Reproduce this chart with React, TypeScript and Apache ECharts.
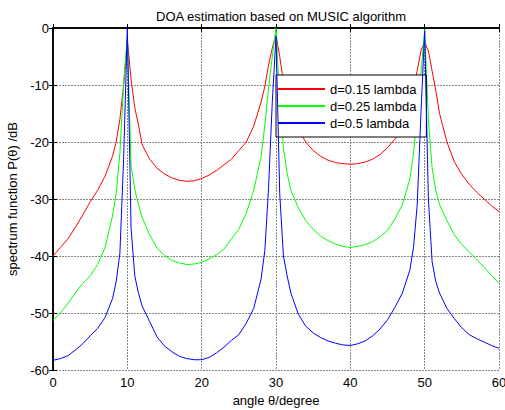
import React, { useEffect, useRef } from "react";
import * as echarts from "echarts";

const angles = [
  0, 1, 2, 3, 4, 5, 6, 7, 8, 8.5, 9, 9.5, 10, 10.5, 11, 11.5, 12,
  13, 14, 15, 16, 17, 18, 19, 20, 21, 22, 23, 24, 25, 26, 27, 28,
  28.5, 29, 29.5, 30, 30.5, 31, 31.5, 32,
  33, 34, 35, 36, 37, 38, 39, 40, 41, 42, 43, 44, 45, 46, 47, 48,
  48.5, 49, 49.5, 50, 50.5, 51, 51.5, 52,
  53, 54, 55, 56, 57, 58, 59, 60,
];

const red015 = [
  -40, -38.5, -37, -35, -32.8, -30.5, -28.5, -26, -22.5, -20, -16, -10, -2, -9, -14, -17, -20.5,
  -23, -24.6, -25.6, -26.3, -26.7, -26.9, -26.8, -26.4, -25.8, -25, -24, -23, -21.5, -20, -17.2, -13,
  -10.2, -6.5, -3.5, -1.2, -5, -9.5, -12, -14.5,
  -17.8, -20, -21.5, -22.5, -23.2, -23.6, -23.8, -23.9, -23.8, -23.5, -23, -22.2, -21, -19.5, -17.2, -13.5,
  -10.5, -7.5, -4, -2.5, -4, -7.5, -11, -15,
  -20, -23.5, -25.7, -27.4, -28.8, -30, -31.2, -32.2,
];

const green025 = [
  -51.3, -50, -48.3, -46.5, -44.8, -43.5, -41.5, -38.5, -33, -29, -22, -10, -1.5, -24, -28.3, -31, -33.3,
  -36.3, -38.6, -39.9, -40.8, -41.2, -41.5, -41.4, -41.1, -40.5, -39.8, -38.8, -37, -35.3, -32.5, -28.5, -22.5,
  -17, -10.5, -5, 0, -13, -21, -25.5, -28.5,
  -31.5, -33.8, -35.3, -36.5, -37.3, -37.9, -38.3, -38.5, -38.3, -38, -37.5, -36.6, -35.5, -33.5, -31, -26.5,
  -22, -15, -8, -0.3, -16, -24.5, -28.5, -31,
  -33.8, -36.3, -38, -39.3, -40.6, -42, -43.4, -44.8,
];

const blue05 = [
  -58.3, -58, -57.5, -56.5, -55.4, -54, -52.7, -50.8, -47.5, -44.5, -39.5, -23, 0, -35, -43.5, -46.5, -48.8,
  -51.5, -54.2, -55.8, -56.8, -57.6, -58, -58.2, -58.2, -57.8, -57, -56, -54.8, -53.8, -51.8, -49.2, -44,
  -39, -28, -13, -1.5, -29, -40, -43.5, -46.5,
  -50.2, -52.3, -53.5, -54.3, -54.9, -55.3, -55.6, -55.7, -55.4, -54.9, -54, -52.8, -51.2, -49, -46.5, -42.5,
  -38.5, -31, -15, -0.5, -30, -41, -44.5, -46.5,
  -49.2, -51, -52.6, -53.8, -54.5, -55.1, -55.7, -56.2,
];

const seriesNames = ["d=0.15 lambda", "d=0.25 lambda", "d=0.5 lambda"];
const seriesColors = ["#ff0000", "#00ff00", "#0000ff"];
const seriesValues = [red015, green025, blue05];

const FONT = "'Liberation Sans', Arial, sans-serif";

export default function App() {
  const ref = useRef<HTMLDivElement>(null);

  useEffect(() => {
    if (!ref.current) return;
    const chart = echarts.init(ref.current, undefined, { renderer: "svg" });
    const axisLine = { show: true, lineStyle: { color: "#000", width: 1.5 } };
    const tick = { show: true, inside: true, length: 4, lineStyle: { color: "#000" } };
    chart.setOption({
      animation: false,
      backgroundColor: "#fff",
      textStyle: { fontFamily: FONT },
      title: {
        text: "DOA estimation based on MUSIC algorithm",
        left: 276,
        textAlign: "center",
        top: 5,
        textStyle: { fontSize: 13, fontWeight: "normal", color: "#000", fontFamily: FONT },
      },
      legend: {
        orient: "vertical",
        left: 276,
        top: 75,
        backgroundColor: "#fff",
        borderColor: "#000",
        borderWidth: 1,
        borderRadius: 0,
        padding: [7, 10, 7, 2],
        itemWidth: 47,
        itemHeight: 2,
        itemGap: 3,
        icon: "rect",
        textStyle: { fontSize: 13, color: "#000", fontFamily: FONT, lineHeight: 14 },
        data: seriesNames.map((n, i) => ({ name: n, itemStyle: { color: seriesColors[i] } })),
      },
      grid: {
        left: 53,
        right: 6,
        top: 28,
        bottom: 40,
        containLabel: false,
        outerBoundsMode: "none",
      },
      xAxis: [
        {
          type: "value",
          min: 0,
          max: 60,
          interval: 10,
          name: "angle θ/degree",
          nameLocation: "middle",
          nameGap: 20,
          nameTextStyle: { fontSize: 13, color: "#000", fontFamily: FONT },
          axisLine,
          axisTick: tick,
          axisLabel: { color: "#000", fontSize: 13, margin: 6, fontFamily: FONT },
          splitLine: { show: true, lineStyle: { color: "#888", type: [2, 1], width: 1 } },
        },
        {
          type: "value",
          position: "top",
          min: 0,
          max: 60,
          interval: 10,
          axisLine,
          axisTick: tick,
          axisLabel: { show: false },
          splitLine: { show: false },
        },
      ],
      yAxis: [
        {
          type: "value",
          min: -60,
          max: 0,
          interval: 10,
          name: "spectrum function P(θ) /dB",
          nameLocation: "middle",
          nameGap: 26,
          nameTextStyle: { fontSize: 13, color: "#000", fontFamily: FONT },
          axisLine,
          axisTick: tick,
          axisLabel: { color: "#000", fontSize: 13, margin: 4, fontFamily: FONT },
          splitLine: { show: true, lineStyle: { color: "#888", type: [2, 1], width: 1 } },
        },
        {
          type: "value",
          position: "right",
          min: -60,
          max: 0,
          interval: 10,
          axisLine,
          axisTick: tick,
          axisLabel: { show: false },
          splitLine: { show: false },
        },
      ],
      series: seriesNames.map((name, i) => ({
        name,
        type: "line",
        xAxisIndex: 0,
        yAxisIndex: 0,
        showSymbol: false,
        symbol: "none",
        lineStyle: { color: seriesColors[i], width: 1 },
        itemStyle: { color: seriesColors[i] },
        data: angles.map((a, j) => [a, seriesValues[i][j]]),
        z: 2 + i,
      })),
    });
    return () => chart.dispose();
  }, []);

  return (
    <div
      ref={ref}
      style={{ position: "fixed", left: 0, top: 0, width: 505, height: 410 }}
    />
  );
}
